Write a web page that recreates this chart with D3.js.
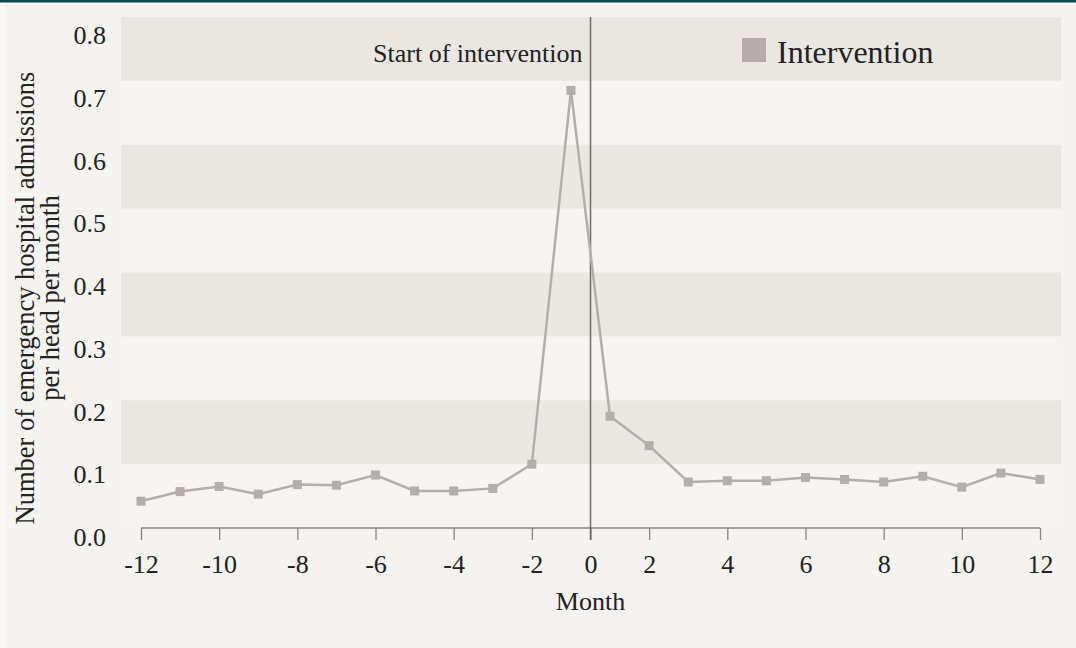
<!DOCTYPE html>
<html>
<head>
<meta charset="utf-8">
<script src="https://cdn.jsdelivr.net/npm/d3@7"></script>
<style>
  body { margin: 0; background: #f4f3ef; }
  svg { display: block; }
</style>
</head>
<body>
<script>
// months shown in the chart (no month 0 point, the gap is the intervention start)
var months = [-12, -11, -10, -9, -8, -7, -6, -5, -4, -3, -2, -1,
              1, 2, 3, 4, 5, 6, 7, 8, 9, 10, 11, 12];
var admissions = [0.042, 0.057, 0.065, 0.053, 0.068, 0.067, 0.083, 0.058, 0.058, 0.062, 0.100, 0.685,
                  0.175, 0.129, 0.072, 0.074, 0.074, 0.079, 0.076, 0.072, 0.081, 0.064, 0.086, 0.076];
var xTicks = [-12, -10, -8, -6, -4, -2, 0, 2, 4, 6, 8, 10, 12];
var yTicks = [0, 0.1, 0.2, 0.3, 0.4, 0.5, 0.6, 0.7, 0.8];
var bandStarts = [0.1, 0.3, 0.5, 0.7];
var seriesName = "Intervention";

var W = 1076, H = 648;
var svg = d3.select("body").append("svg")
    .attr("width", W)
    .attr("height", H);

var font = "'Liberation Serif', 'Times New Roman', serif";
var grey = "#b3aeab";
var ink = "#222";

// outer background, thin lighter strip on the left, dark top rule
svg.append("rect").attr("width", W).attr("height", H).attr("fill", "#f4f3ef");
svg.append("rect").attr("width", 5).attr("height", H).attr("fill", "#f8f8f6");
svg.append("rect").attr("width", W).attr("height", 2.5).attr("fill", "#0b4b57");

var plot = {left: 121, right: 1061, top: 17, bottom: 528};
var step = (1040 - 141) / 23;

// month -> x; -1 and 1 are neighbours, 0 falls in between
var x = d3.scaleLinear()
    .domain([-12, -1, 1, 12])
    .range([141, 141 + 11 * step, 141 + 12 * step, 141 + 23 * step]);

var y = d3.scaleLinear()
    .domain([0, 0.8])
    .range([plot.bottom, plot.top]);

// tick labels sit a little lower than the grid lines
var yLabel = d3.scaleLinear()
    .domain([0, 0.8])
    .range([537, 35]);

svg.append("rect")
    .attr("x", plot.left).attr("y", plot.top)
    .attr("width", plot.right - plot.left)
    .attr("height", plot.bottom - plot.top)
    .attr("fill", "#f5f4f0");

svg.selectAll(".band")
    .data(bandStarts)
  .enter().append("rect")
    .attr("class", "band")
    .attr("x", plot.left)
    .attr("width", plot.right - plot.left)
    .attr("y", function(d) { return y(d + 0.1); })
    .attr("height", function(d) { return y(d) - y(d + 0.1); })
    .attr("fill", "#eae7e2");

// y tick labels
svg.selectAll(".ylab")
    .data(yTicks)
  .enter().append("text")
    .attr("class", "ylab")
    .attr("x", 106)
    .attr("y", function(d) { return yLabel(d); })
    .attr("dy", "0.35em")
    .attr("text-anchor", "end")
    .attr("font-family", font)
    .attr("font-size", "26px")
    .attr("fill", ink)
    .text(function(d) { return d.toFixed(1); });

// x axis
var xAxis = d3.axisBottom(x)
    .tickValues(xTicks)
    .tickSize(12)
    .tickPadding(15)
    .tickFormat(function(d) { return d; });

var gx = svg.append("g")
    .attr("transform", "translate(0," + plot.bottom + ")")
    .call(xAxis);
gx.select(".domain").attr("stroke", "#8a847f").attr("stroke-width", 1.5)
    .attr("d", "M" + x(-12) + ",0H" + x(12));
gx.selectAll(".tick line").attr("stroke", "#8a847f").attr("stroke-width", 1.3);
gx.selectAll(".tick text")
    .attr("font-family", font)
    .attr("font-size", "26px")
    .attr("fill", ink);

svg.append("text")
    .attr("x", (x(-12) + x(12)) / 2)
    .attr("y", 610)
    .attr("text-anchor", "middle")
    .attr("font-family", font)
    .attr("font-size", "26px")
    .attr("fill", ink)
    .text("Month");

// y title
var yTitle = ["Number of emergency hospital admissions", "per head per month"];
svg.selectAll(".ytitle")
    .data(yTitle)
  .enter().append("text")
    .attr("class", "ytitle")
    .attr("transform", function(d, i) { return "translate(" + (34 + i * 25) + ",298) rotate(-90)"; })
    .attr("text-anchor", "middle")
    .attr("font-family", font)
    .attr("font-size", "26.5px")
    .attr("fill", ink)
    .text(function(d) { return d; });

// intervention start marker
svg.append("line")
    .attr("x1", x(0)).attr("x2", x(0))
    .attr("y1", plot.top).attr("y2", plot.bottom + 12)
    .attr("stroke", "#6f6964")
    .attr("stroke-width", 1.5);

svg.append("text")
    .attr("x", x(0) - 8)
    .attr("y", 61.5)
    .attr("text-anchor", "end")
    .attr("font-family", font)
    .attr("font-size", "26px")
    .attr("fill", ink)
    .text("Start of intervention");

// series
var line = d3.line()
    .x(function(d, i) { return x(months[i]); })
    .y(function(d) { return y(d); });

svg.append("path")
    .datum(admissions)
    .attr("d", line)
    .attr("fill", "none")
    .attr("stroke", grey)
    .attr("stroke-width", 2.5);

var ms = 9;
svg.selectAll(".pt")
    .data(admissions)
  .enter().append("rect")
    .attr("class", "pt")
    .attr("x", function(d, i) { return x(months[i]) - ms / 2; })
    .attr("y", function(d) { return y(d) - ms / 2; })
    .attr("width", ms)
    .attr("height", ms)
    .attr("fill", grey);

// legend
var lg = svg.append("g").attr("transform", "translate(742,38)");
lg.append("rect").attr("width", 24).attr("height", 24).attr("fill", grey);
lg.append("text")
    .attr("x", 35)
    .attr("y", 24.5)
    .attr("font-family", font)
    .attr("font-size", "32px")
    .attr("fill", ink)
    .text(seriesName);
</script>
</body>
</html>
